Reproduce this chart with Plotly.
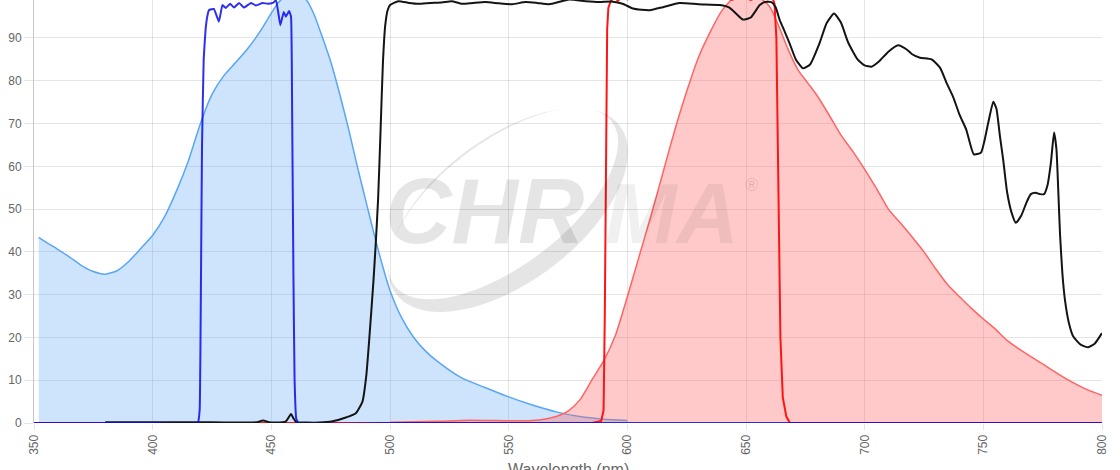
import numpy as np
import plotly.graph_objects as go

# ---------------- data ----------------
# Blue dye (excitation spectrum, filled)
blue_dye_wl = [352, 355, 360, 365, 370, 375, 380, 385, 390, 395, 400, 405, 410, 415, 420,
               425, 430, 435, 440, 445, 450, 453, 456, 459, 462, 465, 468, 471, 475, 479,
               483, 486, 490, 495, 500, 505, 510, 515, 520, 530, 540, 550, 560, 570, 580,
               590, 600]
blue_dye_val = [43.4, 42.3, 40.6, 38.8, 36.8, 35.4, 34.8, 35.6, 37.8, 40.8, 43.9, 48.2, 54.2,
                61.2, 69.8, 76.8, 81.2, 84.3, 87.5, 91.3, 95.8, 98.3, 99.7, 100.2, 99.9,
                98.7, 95.5, 91.0, 84.5, 76.5, 67.7, 60.5, 51.5, 40.5, 31.0, 24.5, 20.0,
                16.8, 14.4, 10.6, 8.3, 6.1, 4.2, 2.6, 1.5, 0.9, 0.6]

# Red dye (emission spectrum, filled)
red_dye_wl = [500, 510, 520, 530, 540, 550, 560, 565, 570, 575, 580, 585, 590, 595, 600,
              605, 610, 615, 620, 625, 630, 635, 640, 645, 650, 655, 660, 664, 668, 672,
              676, 680, 685, 690, 695, 700, 705, 710, 715, 720, 725, 730, 735, 740, 745,
              750, 755, 760, 765, 770, 775, 780, 785, 790, 795, 800]
red_dye_val = [0.2, 0.3, 0.4, 0.6, 0.6, 0.5, 0.6, 0.9, 1.5, 2.8, 5.4, 10.0, 14.5, 20.5, 29.5,
               39.0, 48.5, 58.5, 68.5, 77.5, 85.5, 91.5, 96.5, 99.5, 100.0, 99.7, 97.3, 92.5,
               87.0, 82.5, 79.5, 76.5, 72.0, 67.3, 63.5, 59.3, 54.8, 50.0, 46.8, 43.5, 40.0,
               36.0, 32.3, 29.5, 26.8, 24.3, 22.0, 19.3, 17.3, 15.5, 13.8, 12.0, 10.3, 8.8,
               7.5, 6.5]

# Excitation filter (dark blue line)
ex_filter_wl = [350, 400, 419, 419.8, 420.3, 420.8, 421.5, 422.3, 423, 423.7, 425.8, 427.9,
                429.4, 430.8, 432.6, 434.3, 436.4, 438.5, 441.4, 443.5, 446.3, 448.4, 450.6,
                452, 453.8, 455.2, 456.1, 457.5, 458.3, 458.8, 459.3, 459.8, 460.5, 461.5,
                500, 600, 700, 800]
ex_filter_val = [0, 0, 0, 3, 30, 65, 85, 92, 95, 96.5, 96.8, 93.8,
                 97.7, 97.0, 98.0, 97.1, 98.2, 97.1, 98.2, 97.6, 98.2, 98.0, 98.2,
                 98.8, 93.0, 96.1, 95.0, 96.3, 95.0, 70, 35, 10, 1, 0,
                 0, 0, 0, 0]

# Dichroic (black line)
dichroic_wl = [380, 390, 400, 410, 420, 430, 440, 444, 446.5, 449, 452, 456, 457.5, 458.3,
               459.2, 460.5, 465, 470, 475.8, 481.4, 485.6, 488.4, 490, 491.3, 493, 494,
               495, 496, 497, 498, 499, 500, 503.5, 508, 512, 517, 521.8, 526, 530.3,
               535, 540.2, 546, 551.5, 557.1, 562, 567, 575.5, 582.5, 588, 593.8, 598,
               602.3, 606, 609.4, 615, 622, 630, 639, 643, 646, 648.7, 652, 655.8, 658,
               660.7, 662.5, 664.2, 666.3, 668.4, 671, 674, 677, 681, 684, 687.1, 690,
               693, 697, 700, 702.9, 706, 710, 714.1, 718, 720, 723.3, 728.2, 731.8,
               734.5, 737.3, 740, 742.8, 746, 749, 752, 754.2, 755.5, 757, 758.4,
               760, 762, 763.7, 766, 768, 770, 772, 774, 775.6, 777, 778.5, 779.8, 780.8,
               781.6, 782.3, 783.3, 784.4, 786, 787.9, 791, 794.2, 797, 800]
dichroic_val = [0.2, 0.2, 0.2, 0.2, 0.2, 0.1, 0.1, 0.2, 0.6, 0.2, 0.1, 0.3, 1.5, 2.1,
                1.2, 0.2, 0.1, 0.1, 0.4, 1.3, 2.3, 5.0, 11.0, 19.9, 33.0, 42.0,
                52.5, 68.0, 84.0, 93.0, 96.5, 97.7, 98.6, 98.2, 98.0, 98.2, 98.3, 98.6, 98.0,
                98.2, 98.4, 98.1, 97.9, 98.4, 98.2, 97.9, 99.0, 98.6, 98.4, 98.5, 98.0,
                96.9, 96.6, 96.5, 97.2, 98.2, 97.9, 97.7, 97.1, 95.6, 94.3, 94.8, 97.7, 98.4,
                98.4, 97.2, 94.2, 91.5, 88.7, 85.0, 82.9, 83.8, 88.8, 93.5, 95.7, 93.6,
                89.0, 85.0, 83.6, 83.3, 84.5, 86.8, 88.3, 87.2, 86.2, 85.4, 85.0, 83.0,
                79.5, 76.2, 72.0, 68.6, 62.8, 63.2, 70.0, 75.1, 73.5, 67.0, 61.4,
                54.0, 49.0, 46.8, 48.5, 51.3, 53.5, 53.8, 53.5, 53.5, 55.5, 61.0, 67.9, 64.0,
                54.0, 44.3, 35.0, 28.7, 23.5, 20.2, 18.3, 17.7, 18.6, 21.0]

# Emission filter (red line)
em_filter_wl = [350, 450, 500, 585, 589, 590, 590.5, 591, 591.5, 592, 593, 594.5, 596, 598,
                600, 604, 610, 620, 630, 640, 644, 648, 652, 656, 659, 661, 662, 662.8,
                663.5, 664.5, 665.5, 667, 668.5, 700, 800]
em_filter_val = [0, 0, 0, 0, 0.5, 3, 25, 70, 92, 97, 98.6, 99.6, 98.7, 99.8,
                 99.0, 99.8, 99.7, 99.8, 99.7, 99.8, 98.9, 99.8, 98.9, 99.8, 99.0, 99.6, 98.0, 90,
                 55, 20, 6, 1.5, 0, 0, 0]

x_ticks = [350, 400, 450, 500, 550, 600, 650, 700, 750, 800]
y_ticks = [0, 10, 20, 30, 40, 50, 60, 70, 80, 90]
x_title = "Wavelength (nm)"

# ---------------- figure ----------------
W, H = 1120, 470
ML, MR, MT, MB = 34, 18, 0, 47
X0, X1 = 350, 800
Y0, Y1 = 0, 98.88

fig = go.Figure()

fig.add_trace(go.Scatter(x=blue_dye_wl, y=blue_dye_val, mode="lines", fill="tozeroy",
                         line=dict(color="rgb(88,166,245)", width=1.5, shape="spline", smoothing=0.6),
                         fillcolor="rgba(88,166,245,0.30)", hoverinfo="skip"))
fig.add_trace(go.Scatter(x=red_dye_wl, y=red_dye_val, mode="lines", fill="tozeroy",
                         line=dict(color="rgb(255,100,100)", width=1.5, shape="spline", smoothing=0.6),
                         fillcolor="rgba(255,100,100,0.35)", hoverinfo="skip"))
fig.add_trace(go.Scatter(x=em_filter_wl, y=em_filter_val, mode="lines",
                         line=dict(color="rgb(255,20,20)", width=2), hoverinfo="skip"))
fig.add_trace(go.Scatter(x=dichroic_wl, y=dichroic_val, mode="lines",
                         line=dict(color="rgb(20,20,20)", width=2, shape="spline", smoothing=0.5),
                         hoverinfo="skip"))
fig.add_trace(go.Scatter(x=ex_filter_wl, y=ex_filter_val, mode="lines",
                         line=dict(color="rgba(10,10,235,0.85)", width=2, shape="spline",
                                   smoothing=0.3),
                         hoverinfo="skip"))

# ---------------- watermark (logo) ----------------
pw = W - ML - MR
ph = H - MT - MB


def px2x(px):
    return X0 + (px - ML) / pw * (X1 - X0)


def py2y(py):
    return Y1 - (py - MT) / ph * (Y1 - Y0)


def ellipse_path(cx, cy, a, b, ang_deg, n=90):
    t = np.linspace(0, 2 * np.pi, n, endpoint=False)
    th = np.radians(ang_deg)
    ux, uy = np.cos(th), -np.sin(th)
    vx, vy = np.sin(th), np.cos(th)
    px = cx + a * np.cos(t) * ux + b * np.sin(t) * vx
    py = cy + a * np.cos(t) * uy + b * np.sin(t) * vy
    pts = [f"{px2x(u):.3f},{py2y(v):.3f}" for u, v in zip(px, py)]
    return "M" + " L".join(pts) + " Z"


ang = 37
cxp, cyp = 508, 210
th = np.radians(ang)
shift = 8
outer = ellipse_path(cxp, cyp, 140, 72, ang)
inner = ellipse_path(cxp - shift * np.sin(th), cyp - shift * np.cos(th), 136, 62, ang)
fig.add_shape(type="path", path=outer + " " + inner, xref="x", yref="y",
              fillcolor="rgba(0,0,0,0.10)", fillrule="evenodd", line=dict(width=0),
              layer="above")

fig.add_annotation(x=px2x(484), y=py2y(211), text="CHR", showarrow=False,
                   xref="x", yref="y",
                   font=dict(family="Liberation Sans", size=92, color="rgba(0,0,0,0.10)",
                             weight="bold", style="italic"),
                   xanchor="center", yanchor="middle")
fig.add_annotation(x=px2x(672), y=py2y(213), text="MA", showarrow=False,
                   xref="x", yref="y",
                   font=dict(family="Liberation Sans", size=86, color="rgba(0,0,0,0.06)",
                             weight="bold", style="italic"),
                   xanchor="center", yanchor="middle")
fig.add_annotation(x=px2x(751), y=py2y(185), text="®", showarrow=False,
                   xref="x", yref="y",
                   font=dict(family="Liberation Sans", size=18, color="rgba(0,0,0,0.12)"),
                   xanchor="center", yanchor="middle")

# x-axis title, placed just below the tick labels (partly outside the page as in the original)
fig.add_annotation(x=0.5, y=-(459 - (H - MB)) / ph, xref="paper", yref="paper",
                   text=x_title, showarrow=False, xanchor="center", yanchor="top",
                   font=dict(family="Liberation Sans", size=16, color="#666"))

grid = "rgba(0,0,0,0.1)"
fig.update_layout(
    width=W, height=H,
    margin=dict(l=ML, r=MR, t=MT, b=MB, pad=0, autoexpand=False),
    paper_bgcolor="white", plot_bgcolor="white",
    showlegend=False,
    font=dict(family="Liberation Sans", color="#666"),
    xaxis=dict(range=[X0, X1], tickvals=x_ticks, ticktext=[str(v) for v in x_ticks],
               tickangle=-90, showgrid=True, gridcolor=grid, gridwidth=1,
               ticks="outside", ticklen=6, tickcolor=grid,
               tickfont=dict(size=12, color="#666"), zeroline=False,
               showline=False, automargin=False),
    yaxis=dict(range=[Y0, Y1], tickvals=y_ticks, showgrid=True, gridcolor=grid, gridwidth=1,
               ticks="outside", ticklen=9, tickcolor=grid, automargin=False,
               tickfont=dict(size=12, color="#666"), zeroline=False,
               showline=True, linecolor="rgba(0,0,0,0.22)", linewidth=1),
)

fig.write_html("out.html")
